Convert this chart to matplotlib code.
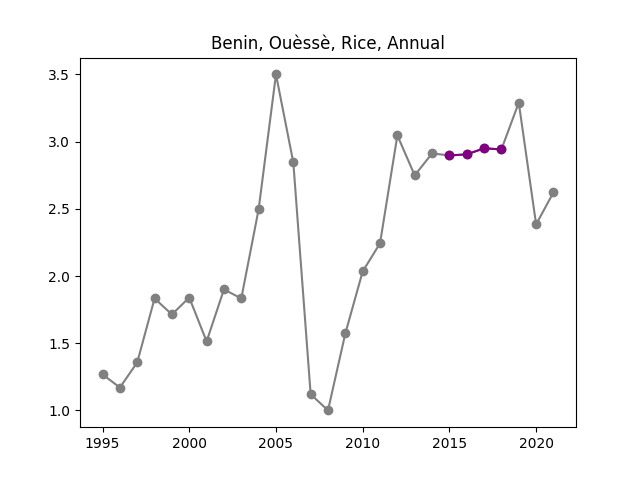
import matplotlib
matplotlib.use("Agg")
import matplotlib.pyplot as plt

years = list(range(1995, 2022))
values = [1.268, 1.17, 1.357, 1.833, 1.714, 1.84, 1.513, 1.90, 1.833, 2.496, 3.5, 2.845,
          1.12, 1.0, 1.573, 2.034, 2.243, 3.046, 2.749, 2.912, 2.897, 2.905, 2.95, 2.942,
          3.29, 2.384, 2.622]
hl_years = [2015, 2016, 2017, 2018]
hl_values = [values[years.index(y)] for y in hl_years]

fig, ax = plt.subplots(figsize=(6.4, 4.8), dpi=100)
ax.plot(years, values, color="gray", marker="o")
ax.plot(hl_years, hl_values, color="purple", marker="o")
ax.set_title("Benin, Ouèssè, Rice, Annual")
fig.savefig("out.png")
